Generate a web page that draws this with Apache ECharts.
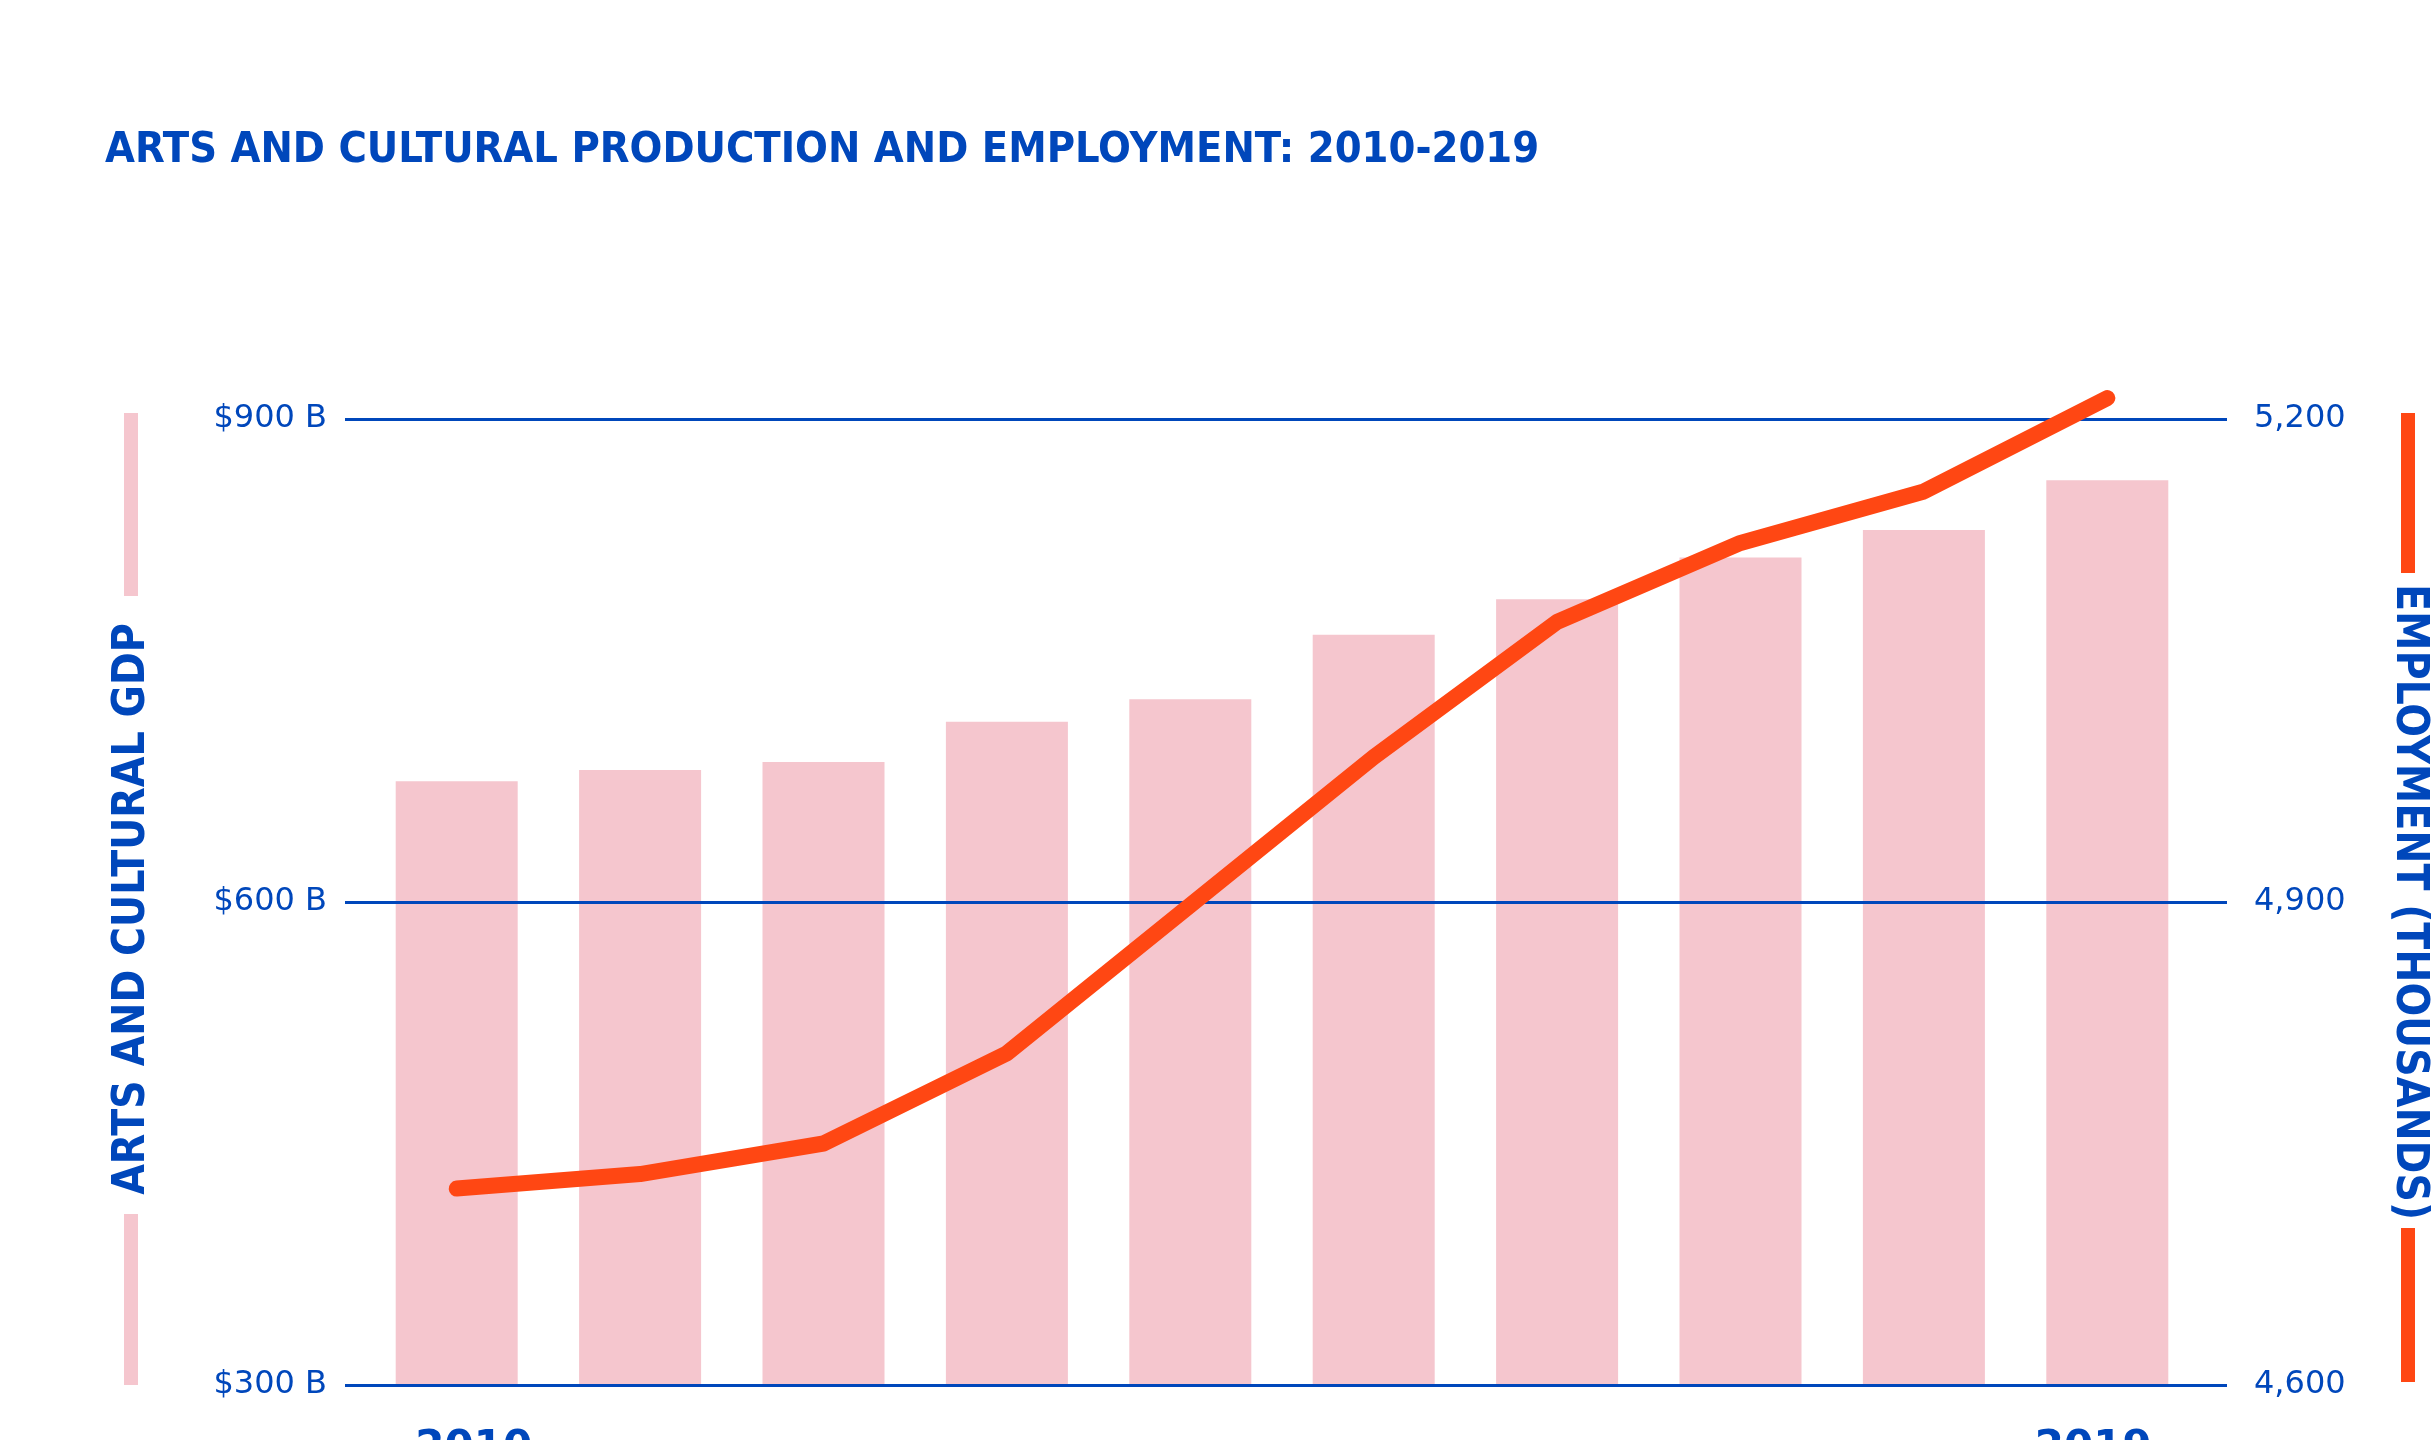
<!DOCTYPE html>
<html lang="en">
<head>
    <meta charset="UTF-8">
    <title>Arts and Cultural Production and Employment</title>
    <script type="text/javascript" src="https://cdn.jsdelivr.net/npm/echarts@6/dist/echarts.min.js"></script>
    <style>
        html, body { margin: 0; padding: 0; background: #fff; }
        #main { width: 2434px; height: 1440px; }
    </style>
</head>
<body>
<div id="main"></div>
<script type="text/javascript">
    // data
    var years = ['2010', '2011', '2012', '2013', '2014', '2015', '2016', '2017', '2018', '2019'];
    var gdp = [675, 682, 687, 712, 726, 766, 788, 814, 831, 862];          // billions of dollars
    var employment = [4722, 4731, 4750, 4806, 4898, 4990, 5074, 5123, 5155, 5213]; // thousands
    var gdpTicks = [300, 600, 900];
    var empTicks = [4600, 4900, 5200];

    var blue = '#0047BB';
    var pink = '#F5C6CE';
    var orange = '#FF4713';

    var myChart = echarts.init(document.getElementById('main'));

    var option = {
        backgroundColor: '#fff',
        animation: false,
        title: {
            text: 'ARTS AND CULTURAL PRODUCTION AND EMPLOYMENT: 2010-2019',
            left: 100,
            top: 124,
            textStyle: {
                color: blue,
                fontFamily: 'DejaVu Sans Condensed',
                fontWeight: 'bold',
                fontSize: 43
            }
        },
        grid: [
            // wide grid: the horizontal rules and tick labels
            {left: 345, right: 207, top: 419, bottom: 55, outerBoundsMode: 'none', containLabel: false},
            // narrower grid: bars and line
            {left: 365, right: 235, top: 419, bottom: 55, outerBoundsMode: 'none', containLabel: false}
        ],
        xAxis: [
            {gridIndex: 0, type: 'category', data: years, show: false},
            {
                gridIndex: 1,
                type: 'category',
                data: years,
                axisLine: {show: false},
                axisTick: {show: false},
                axisLabel: {
                    interval: function (i) { return i === 0 || i === years.length - 1; },
                    margin: 43,
                    color: blue,
                    fontFamily: 'DejaVu Sans',
                    fontWeight: 'bold',
                    fontSize: 42,
                    lineHeight: 42,
                    formatter: function (v, i) {
                        return i === 0 ? '{first|' + v + '}' : '{last|' + v + '}';
                    },
                    rich: {
                        first: {padding: [0, 0, 0, 34]},
                        last: {padding: [0, 28, 0, 0]}
                    }
                }
            }
        ],
        yAxis: [
            {
                gridIndex: 0,
                type: 'value',
                min: gdpTicks[0],
                max: gdpTicks[gdpTicks.length - 1],
                interval: 300,
                z: 3,
                axisLine: {show: false},
                axisTick: {show: false},
                splitLine: {lineStyle: {color: blue, width: 3}},
                axisLabel: {
                    margin: 18,
                    color: blue,
                    fontFamily: 'DejaVu Sans',
                    fontSize: 32,
                    formatter: function (v) { return '$' + v + ' B'; }
                }
            },
            {
                gridIndex: 0,
                type: 'value',
                position: 'right',
                min: empTicks[0],
                max: empTicks[empTicks.length - 1],
                interval: 300,
                axisLine: {show: false},
                axisTick: {show: false},
                splitLine: {show: false},
                axisLabel: {
                    margin: 27,
                    color: blue,
                    fontFamily: 'DejaVu Sans',
                    fontSize: 32,
                    formatter: function (v) { return v.toLocaleString('en-US'); }
                }
            },
            {gridIndex: 1, type: 'value', min: gdpTicks[0], max: gdpTicks[gdpTicks.length - 1], show: false, splitLine: {show: false}},
            {gridIndex: 1, type: 'value', min: empTicks[0], max: empTicks[empTicks.length - 1], show: false, splitLine: {show: false}}
        ],
        series: [
            {
                name: 'Arts and cultural GDP',
                type: 'bar',
                xAxisIndex: 1,
                yAxisIndex: 2,
                data: gdp,
                barWidth: 122,
                z: 2,
                itemStyle: {color: pink}
            },
            {
                name: 'Employment',
                type: 'line',
                xAxisIndex: 1,
                yAxisIndex: 3,
                data: employment,
                z: 5,
                clip: false,
                symbol: 'none',
                lineStyle: {color: orange, width: 16, cap: 'round', join: 'round'}
            }
        ],
        graphic: [
            // decorative side bars
            {type: 'rect', left: 124, top: 413, shape: {width: 14, height: 183}, style: {fill: pink}},
            {type: 'rect', left: 124, top: 1214, shape: {width: 14, height: 171}, style: {fill: pink}},
            {type: 'rect', left: 2401, top: 413, shape: {width: 14, height: 160}, style: {fill: orange}},
            {type: 'rect', left: 2401, top: 1228, shape: {width: 14, height: 154}, style: {fill: orange}},
            {
                type: 'text',
                x: 133, y: 909,
                rotation: Math.PI / 2,
                style: {
                    text: 'ARTS AND CULTURAL GDP',
                    fill: blue,
                    fontFamily: 'DejaVu Sans Condensed',
                    fontWeight: 'bold',
                    fontSize: 44,
                    align: 'center',
                    verticalAlign: 'middle'
                }
            },
            {
                type: 'text',
                x: 2408, y: 902,
                rotation: -Math.PI / 2,
                style: {
                    text: 'EMPLOYMENT (THOUSANDS)',
                    fill: blue,
                    fontFamily: 'DejaVu Sans Condensed',
                    fontWeight: 'bold',
                    fontSize: 44,
                    align: 'center',
                    verticalAlign: 'middle'
                }
            }
        ]
    };
    myChart.setOption(option);
</script>
</body>
</html>
